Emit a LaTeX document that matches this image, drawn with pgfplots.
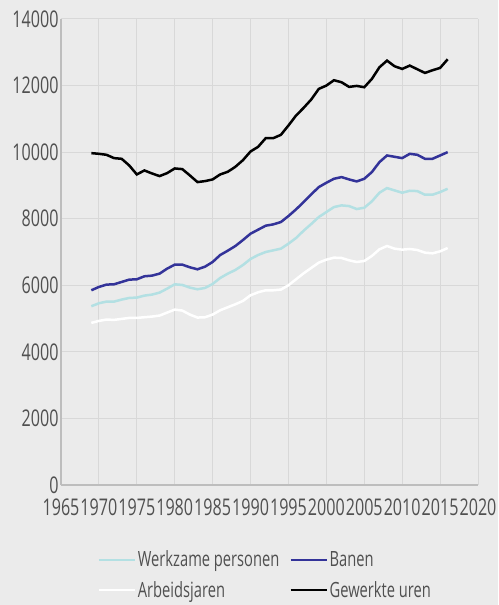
\documentclass[border=0pt]{standalone}
\usepackage{pgfplots}
\pgfplotsset{compat=1.18}
\usepackage{fontspec}
\setmainfont[FakeStretch=0.7]{Open Sans}
\definecolor{bg}{HTML}{EBEBEB}
\definecolor{gridc}{HTML}{D8D8D8}
\definecolor{axc}{HTML}{BDBDBD}
\definecolor{txt}{HTML}{505050}
\definecolor{banen}{HTML}{333399}
\definecolor{werk}{HTML}{B3E0E3}
\pgfplotstableread{
year uren banen werk arbeid
1969 9970 5850 5370 4870
1970 9950 5950 5460 4930
1971 9920 6020 5510 4970
1972 9820 6030 5510 4960
1973 9800 6100 5570 4990
1974 9600 6170 5620 5020
1975 9330 6180 5630 5020
1976 9450 6270 5690 5040
1977 9360 6290 5720 5060
1978 9280 6350 5780 5090
1979 9370 6500 5900 5180
1980 9510 6620 6030 5270
1981 9490 6620 6010 5240
1982 9300 6540 5930 5120
1983 9100 6480 5880 5030
1984 9130 6560 5920 5040
1985 9180 6700 6040 5120
1986 9330 6910 6220 5250
1987 9410 7040 6350 5340
1988 9560 7180 6460 5430
1989 9760 7360 6610 5530
1990 10020 7550 6790 5700
1991 10160 7670 6910 5790
1992 10420 7790 7000 5850
1993 10420 7830 7050 5850
1994 10520 7900 7100 5870
1995 10800 8080 7250 6000
1996 11100 8280 7420 6180
1997 11330 8500 7640 6360
1998 11580 8730 7840 6520
1999 11900 8950 8050 6680
2000 12000 9080 8200 6770
2001 12160 9200 8350 6830
2002 12100 9250 8400 6820
2003 11960 9180 8380 6750
2004 11990 9120 8290 6700
2005 11950 9200 8330 6730
2006 12200 9400 8520 6880
2007 12550 9700 8780 7080
2008 12750 9900 8920 7180
2009 12580 9860 8850 7100
2010 12500 9820 8780 7070
2011 12600 9950 8840 7090
2012 12490 9920 8830 7060
2013 12380 9800 8720 6980
2014 12460 9800 8720 6960
2015 12530 9900 8800 7020
2016 12790 10000 8900 7120
}\data
\begin{document}
\begin{tikzpicture}[x=1pt,y=1pt]
\useasboundingbox (0,0) rectangle (498,605);
\fill[bg] (0,0) rectangle (498,605);
\begin{axis}[
  at={(61pt,120pt)}, anchor=south west,
  scale only axis, width=417pt, height=466pt,
  xmin=1965, xmax=2020, ymin=0, ymax=14000,
  xtick={1965,1970,...,2020},
  ytick={0,2000,...,14000},
  scaled y ticks=false, scaled x ticks=false,
  grid=major,
  major grid style={gridc, line width=1pt},
  axis lines=left,
  axis line style={axc, line width=1.2pt, -},
  major tick length=0pt,
  tick label style={font=\fontsize{23}{23}\selectfont, text=txt},
  /pgf/number format/assume math mode=true,
  /pgf/number format/1000 sep={},
  xticklabel style={yshift=-10pt},
  yticklabel style={xshift=1pt},
  legend style={at={(axis description cs:0.49,-0.193)}, anchor=center, draw=none, fill=none,
    font=\fontsize{21}{21}\selectfont, text=txt,
    /tikz/every even column/.append style={column sep=8pt},
    row sep=9pt},
  legend columns=2,
  legend cell align=left,
  legend image code/.code={\draw[#1, line width=2.2pt] (0pt,0pt) -- (36pt,0pt);},
  clip=false,
]
\addplot[werk, line width=2.5pt] table[x=year,y=werk]{\data};
\addlegendentry{Werkzame personen}
\addplot[banen, line width=2.5pt] table[x=year,y=banen]{\data};
\addlegendentry{Banen}
\addplot[white, line width=2.5pt] table[x=year,y=arbeid]{\data};
\addlegendentry{Arbeidsjaren}
\addplot[black, line width=2.5pt] table[x=year,y=uren]{\data};
\addlegendentry{Gewerkte uren}
\end{axis}
\end{tikzpicture}
\end{document}
